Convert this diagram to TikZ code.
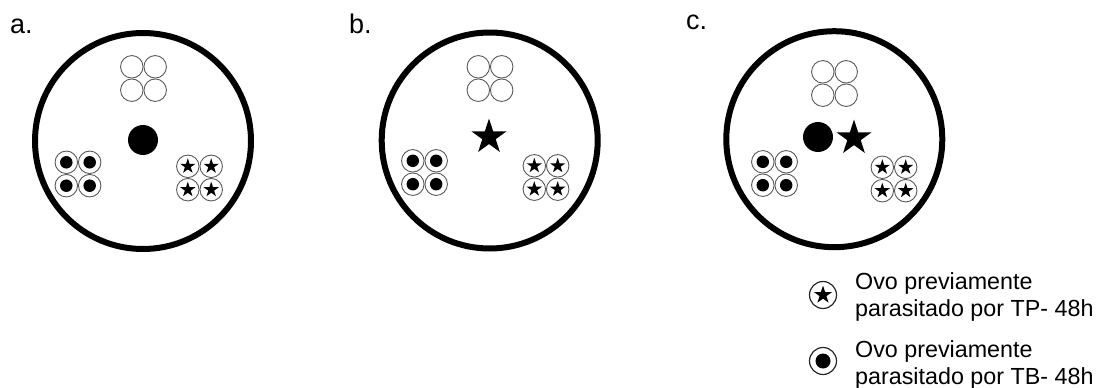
\documentclass[tikz,border=0pt]{standalone}
\usepackage{fontspec}
\setmainfont{Liberation Sans}
\usetikzlibrary{shapes.geometric}
\definecolor{ringgray}{gray}{0.35}
\tikzset{
  dish/.style={circle, draw=black, line width=6pt, minimum size=216pt, inner sep=0pt},
  ring/.style={circle, draw=ringgray, line width=0.9pt, minimum size=22.5pt, inner sep=0pt},
  keyring/.style={circle, draw=black!85, line width=1.2pt, minimum size=27pt, inner sep=0pt},
  blackdot/.style={circle, fill=black, inner sep=0pt, minimum size=#1},
  blackstar/.style={star, star points=5, star point ratio=2.618, fill=black,
                    inner sep=0pt, minimum size=#1},
  panellabel/.style={font=\fontsize{27}{32}\selectfont, anchor=base west, inner sep=0pt},
  legendtext/.style={font=\fontsize{23.3}{26.5}\selectfont, align=left, anchor=west, inner sep=0pt},
  pics/openquad/.style={code={
    \foreach \n/\dx/\dy in {1/-1/-1,2/1/-1,3/-1/1,4/1/1}
      \node[ring] (-r\n) at (\dx*11.7,\dy*11.7) {};
  }},
  pics/dotquad/.style={code={
    \foreach \n/\dx/\dy in {1/-1/-1,2/1/-1,3/-1/1,4/1/1}{
      \node[ring] (-r\n) at (\dx*11.7,\dy*11.7) {};
      \node[blackdot=12.5pt] (-d\n) at (-r\n.center) {};
    }
  }},
  pics/starquad/.style={code={
    \foreach \n/\dx/\dy in {1/-1/-1,2/1/-1,3/-1/1,4/1/1}{
      \node[ring] (-r\n) at (\dx*11.7,\dy*11.7) {};
      \node[blackstar=16pt] (-s\n) at (-r\n.center) {};
    }
  }},
}
\begin{document}
\begin{tikzpicture}[x=1pt,y=-1pt]
  \useasboundingbox (0,0) rectangle (1101,388);

  % panel labels
  \node[panellabel] (la) at (10,33) {a.};
  \node[panellabel] (lb) at (349,33) {b.};
  \node[panellabel] (lc) at (686,30) {c.};

  % panel a: central black egg mass
  \node[dish] (dishA) at (143,141) {};
  \pic (aTop) at (143.5,78.5) {openquad};
  \pic (aLeft) at (78,174) {dotquad};
  \pic (aRight) at (199.5,178) {starquad};
  \node[blackdot=30pt] (aCentre) at (143,140) {};

  % panel b: central star
  \node[dish] (dishB) at (489.7,140.5) {};
  \pic (bTop) at (490,78.5) {openquad};
  \pic (bLeft) at (424.5,172.5) {dotquad};
  \pic (bRight) at (546,177.5) {starquad};
  \node[blackstar=37pt] (bCentre) at (489,137) {};

  % panel c: black egg mass and star side by side
  \node[dish] (dishC) at (834.3,139.2) {};
  \pic (cTop) at (834.5,83.5) {openquad};
  \pic (cLeft) at (774.5,173.5) {dotquad};
  \pic (cRight) at (894,179) {starquad};
  \node[blackdot=30pt] (cDot) at (818,137) {};
  \node[blackstar=37pt] (cStar) at (854,138) {};

  % legend
  \node[keyring] (keyStarRing) at (823,295) {};
  \node[blackstar=19pt] (keyStar) at (keyStarRing.center) {};
  \node[legendtext] (keyStarText) at (855,297) {Ovo previamente\\parasitado por TP- 48h};

  \node[keyring] (keyDotRing) at (823,361) {};
  \node[blackdot=15pt] (keyDot) at (keyDotRing.center) {};
  \node[legendtext] (keyDotText) at (855,365) {Ovo previamente\\parasitado por TB- 48h};
\end{tikzpicture}
\end{document}
